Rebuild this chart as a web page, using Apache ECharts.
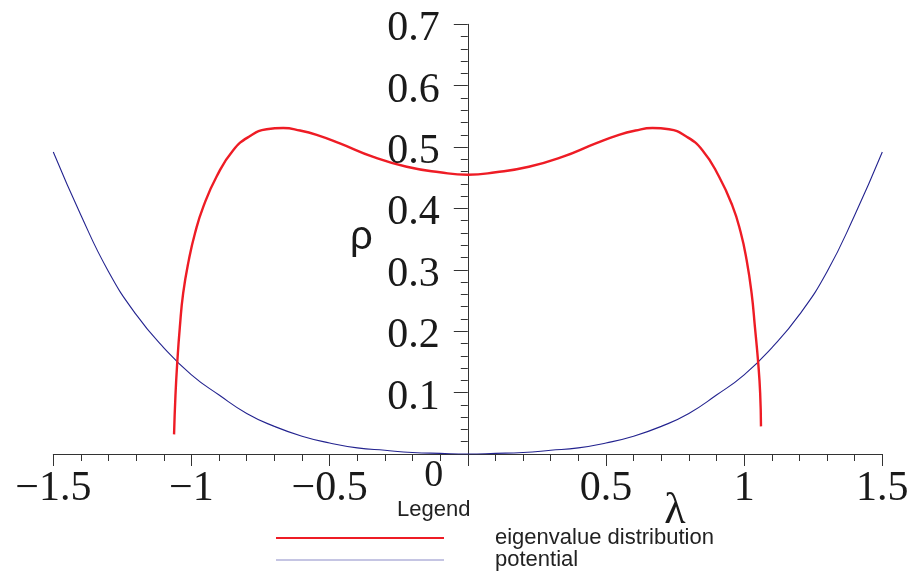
<!DOCTYPE html>
<html>
<head>
<meta charset="utf-8">
<title>Eigenvalue distribution</title>
<script src="https://cdn.jsdelivr.net/npm/echarts@6/dist/echarts.min.js"></script>
<style>
  html, body { margin: 0; padding: 0; background: #ffffff; }
  #chart { width: 914px; height: 577px; }
</style>
</head>
<body>
<div id="chart"></div>
<script>
// Eigenvalue density rho(lambda)
const rhoLambda = [
  -1.063, -1.058, -1.052, -1.042, -1.030, -1.010, -0.987, -0.957, -0.909, -0.849,
  -0.788, -0.728, -0.668, -0.607, -0.547, -0.463, -0.342, -0.221, -0.101, 0,
  0.101, 0.221, 0.342, 0.463, 0.547, 0.607, 0.668, 0.728, 0.788, 0.849,
  0.909, 0.957, 0.987, 1.009, 1.027, 1.039, 1.051, 1.058, 1.061
];
const rhoValues = [
  0.032, 0.095, 0.145, 0.207, 0.262, 0.315, 0.360, 0.403, 0.452, 0.495,
  0.518, 0.529, 0.531, 0.527, 0.520, 0.506, 0.484, 0.468, 0.459, 0.455,
  0.459, 0.468, 0.484, 0.506, 0.520, 0.527, 0.531, 0.529, 0.518, 0.495,
  0.452, 0.405, 0.362, 0.316, 0.262, 0.207, 0.148, 0.099, 0.045
];

// Potential V(lambda)
const potLambda = [
  -1.5, -1.4, -1.3, -1.2, -1.1, -1.0, -0.9, -0.8, -0.7, -0.6, -0.5, -0.4, -0.3, -0.2, -0.1,
  0, 0.1, 0.2, 0.3, 0.4, 0.5, 0.6, 0.7, 0.8, 0.9, 1.0, 1.1, 1.2, 1.3, 1.4, 1.5
];
const potValues = [
  0.492, 0.389, 0.297, 0.227, 0.173, 0.129, 0.096, 0.066, 0.045, 0.029, 0.018, 0.010, 0.006, 0.0025, 0.001,
  0, 0.001, 0.0025, 0.006, 0.010, 0.018, 0.029, 0.045, 0.066, 0.096, 0.129, 0.173, 0.227, 0.297, 0.389, 0.492
];

const seriesNames = ['eigenvalue distribution', 'potential'];
const xTickLabels = ['−1.5', '−1', '−0.5', '', '0.5', '1', '1.5'];
const yTickLabels = ['', '0.1', '0.2', '0.3', '0.4', '0.5', '0.6', '0.7'];

const zip = (xs, ys) => xs.map((x, i) => [x, ys[i]]);

const RED = '#ee1c25';
const BLUE = '#23238f';
const AXIS = '#333333';
const SERIF = '"Liberation Serif", "DejaVu Serif", serif';
const SANS = '"Liberation Sans", Arial, sans-serif';

// Plot area
const GRID = { left: 53.3, right: 31.7, top: 24.3, bottom: 123 };
const X_MIN = -1.5, X_MAX = 1.5;
// The vertical axis sits on lambda = 0: shift it in from the left edge of the grid
const plotWidth = 914 - GRID.left - GRID.right;
const yAxisOffset = -plotWidth * (0 - X_MIN) / (X_MAX - X_MIN);

const chart = echarts.init(document.getElementById('chart'), null, { renderer: 'canvas' });

chart.setOption({
  animation: false,
  backgroundColor: '#ffffff',
  grid: Object.assign({ containLabel: false, outerBoundsMode: 'none' }, GRID),
  title: {
    text: 'Legend',
    left: 397, top: 499, padding: 0,
    textStyle: { fontFamily: SANS, fontSize: 22, fontWeight: 'normal', color: '#222' }
  },
  legend: {
    orient: 'vertical',
    left: 275, top: 527, padding: 0,
    itemWidth: 168, itemHeight: 22, itemGap: 0,
    itemStyle: { opacity: 0 },
    textStyle: { fontFamily: SANS, fontSize: 22, color: '#222', lineHeight: 21, padding: [0, 0, 0, 46] },
    data: [
      { name: seriesNames[0], lineStyle: { color: RED, width: 2 } },
      { name: seriesNames[1], lineStyle: { color: '#8c8cc8', width: 1.2 } }
    ],
    selectedMode: false
  },
  xAxis: {
    type: 'value', min: X_MIN, max: X_MAX, interval: 0.5,
    axisLine: { onZero: true, lineStyle: { color: AXIS, width: 1 } },
    axisTick: { show: true, length: 12, lineStyle: { color: AXIS } },
    minorTick: { show: true, splitNumber: 5, length: 7, lineStyle: { color: AXIS } },
    splitLine: { show: false },
    axisLabel: {
      margin: 14, fontFamily: SERIF, fontSize: 42, color: '#1a1a1a',
      formatter: v => xTickLabels[Math.round((v - X_MIN) / 0.5)]
    }
  },
  yAxis: {
    type: 'value', min: 0, max: 0.7, interval: 0.1,
    position: 'left', offset: yAxisOffset,
    axisLine: { show: true, onZero: false, lineStyle: { color: AXIS, width: 1 } },
    axisTick: { show: true, inside: false, length: 14, lineStyle: { color: AXIS } },
    minorTick: { show: true, splitNumber: 5, length: 7, lineStyle: { color: AXIS } },
    splitLine: { show: false },
    axisLabel: {
      margin: 28, color: '#1a1a1a',
      formatter: v => {
        const t = yTickLabels[Math.round(v * 10)];
        return t ? '{n|' + t + '}' : '';
      },
      rich: {
        n: { fontFamily: SERIF, fontSize: 42, color: '#1a1a1a', lineHeight: 42, padding: [10, 0, 0, 0] }
      }
    }
  },
  series: [
    {
      name: seriesNames[0], type: 'line', data: zip(rhoLambda, rhoValues),
      symbol: 'none', smooth: 0.5, z: 3,
      lineStyle: { color: RED, width: 2.4 }, itemStyle: { color: RED }
    },
    {
      name: seriesNames[1], type: 'line', data: zip(potLambda, potValues),
      symbol: 'none', smooth: 0.5, z: 2,
      lineStyle: { color: BLUE, width: 1.1 }, itemStyle: { color: BLUE }
    }
  ]
});

// Axis names and the origin label, placed relative to the origin of the axes
const origin = chart.convertToPixel({ gridIndex: 0 }, [0, 0]);
chart.setOption({
  graphic: [
    {
      type: 'text', x: origin[0] - 34, y: origin[1] + 22,
      style: { text: '0', font: '38px ' + SERIF, fill: '#1a1a1a', align: 'center', verticalAlign: 'middle' }
    },
    {
      type: 'text', x: 350, y: 238,
      style: { text: 'ρ', font: '40px ' + SANS, fill: '#1a1a1a', align: 'left', verticalAlign: 'middle' }
    },
    {
      type: 'text', x: 675, y: 511,
      style: { text: 'λ', font: '44px ' + SERIF, fill: '#1a1a1a', align: 'center', verticalAlign: 'middle' }
    }
  ]
});
</script>
</body>
</html>
